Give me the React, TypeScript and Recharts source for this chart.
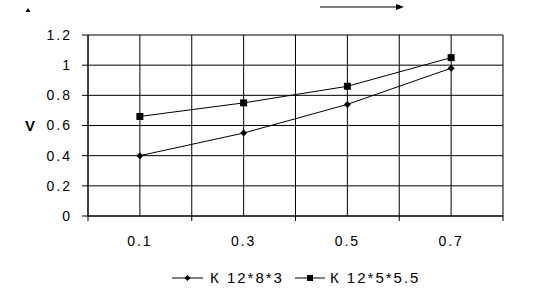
import React from "react"
import { CartesianGrid, Line, LineChart, XAxis, YAxis } from "recharts"

const categories = ["0.1", "0.3", "0.5", "0.7"]
const xValues = [0.1, 0.3, 0.5, 0.7]
const k1283 = [0.4, 0.55, 0.74, 0.98]
const k12555 = [0.66, 0.75, 0.86, 1.05]
const seriesNames = ["К 12*8*3", "К 12*5*5.5"]
const xGridTicks = [0, 0.1, 0.2, 0.3, 0.4, 0.5, 0.6, 0.7, 0.8]
const yTicks = [0, 0.2, 0.4, 0.6, 0.8, 1, 1.2]

const data = xValues.map((x, i) => ({
  x,
  label: categories[i],
  a: k1283[i],
  b: k12555[i],
}))

const font = "'Liberation Sans', Arial, sans-serif"

const Diamond = (props: any) => {
  const { cx, cy } = props
  if (cx == null || cy == null) return null
  return <path d={`M${cx},${cy - 3.5}L${cx + 3.5},${cy}L${cx},${cy + 3.5}L${cx - 3.5},${cy}Z`} fill="#000" />
}

const Square = (props: any) => {
  const { cx, cy } = props
  if (cx == null || cy == null) return null
  return <rect x={cx - 3.5} y={cy - 3.5} width={7} height={7} fill="#000" />
}

const XTick = (props: any) => {
  const { x, y, payload } = props
  const idx = xValues.findIndex((v) => Math.abs(v - payload.value) < 1e-6)
  if (idx >= 0) {
    return (
      <text x={x} y={y + 25} dy="0.355em" textAnchor="middle" fontSize={14}
        fontFamily={font} fill="#000" style={{ letterSpacing: 2 }}>
        {categories[idx]}
      </text>
    )
  }
  return <line x1={x} y1={y} x2={x} y2={y + 5} stroke="#000" />
}

function LegendItem({ name, marker, lineW, gap }: { name: string; marker: "diamond" | "square"; lineW: number; gap: number }) {
  const c = lineW / 2
  return (
    <span style={{ display: "inline-flex", alignItems: "center", marginRight: 11 }}>
      <svg width={lineW} height={10} style={{ marginRight: gap }}>
        <line x1={0} y1={5} x2={lineW} y2={5} stroke="#000" />
        {marker === "diamond"
          ? <path d={`M${c},2L${c + 3},5L${c},8L${c - 3},5Z`} fill="#000" />
          : <rect x={c - 3} y={2} width={6} height={6} fill="#000" />}
      </svg>
      <span style={{ letterSpacing: 2 }}>{name}</span>
    </span>
  )
}

export default function App() {
  return (
    <div style={{ position: "absolute", left: 0, top: 0, width: 533, height: 296, background: "#fff", fontFamily: font }}>
      <LineChart width={533} height={296} data={data} margin={{ top: 35, right: 30, bottom: 50, left: 0 }}>
        <CartesianGrid stroke="#000" strokeWidth={1} />
        <XAxis
          dataKey="x"
          type="number"
          domain={[0, 0.8]}
          ticks={xGridTicks}
          interval={0}
          height={30}
          tickLine={false}
          tickSize={0}
          tickMargin={0}
          axisLine={{ stroke: "#000" }}
          tick={<XTick />}
        />
        <YAxis
          width={88}
          domain={[0, 1.2]}
          ticks={yTicks}
          interval={0}
          tickSize={6}
          tickMargin={10}
          axisLine={{ stroke: "#000" }}
          tickLine={{ stroke: "#000" }}
          tick={{ fill: "#000", fontSize: 14, fontFamily: font, style: { letterSpacing: 2 } }}
          label={{ value: "V", position: "insideLeft", offset: 25, fill: "#000", fontSize: 15, fontWeight: "bold", fontFamily: font }}
        />
        <Line type="linear" dataKey="a" name={seriesNames[0]} stroke="#000" strokeWidth={1} dot={<Diamond />} isAnimationActive={false} />
        <Line type="linear" dataKey="b" name={seriesNames[1]} stroke="#000" strokeWidth={1} dot={<Square />} isAnimationActive={false} />
      </LineChart>
      <svg width={533} height={20} style={{ position: "absolute", left: 0, top: 0 }}>
        <path d="M28,8L30.5,12L25.5,12Z" fill="#000" />
        <line x1={320} y1={7} x2={398} y2={7} stroke="#000" />
        <path d="M404,7L396,4L396,10Z" fill="#000" />
      </svg>
      <div style={{ position: "absolute", left: 172, top: 269, fontSize: 15, lineHeight: "17px", color: "#000", display: "flex", whiteSpace: "nowrap" }}>
        <LegendItem name={seriesNames[0]} marker="diamond" lineW={31} gap={7} />
        <LegendItem name={seriesNames[1]} marker="square" lineW={30} gap={5} />
      </div>
    </div>
  )
}
